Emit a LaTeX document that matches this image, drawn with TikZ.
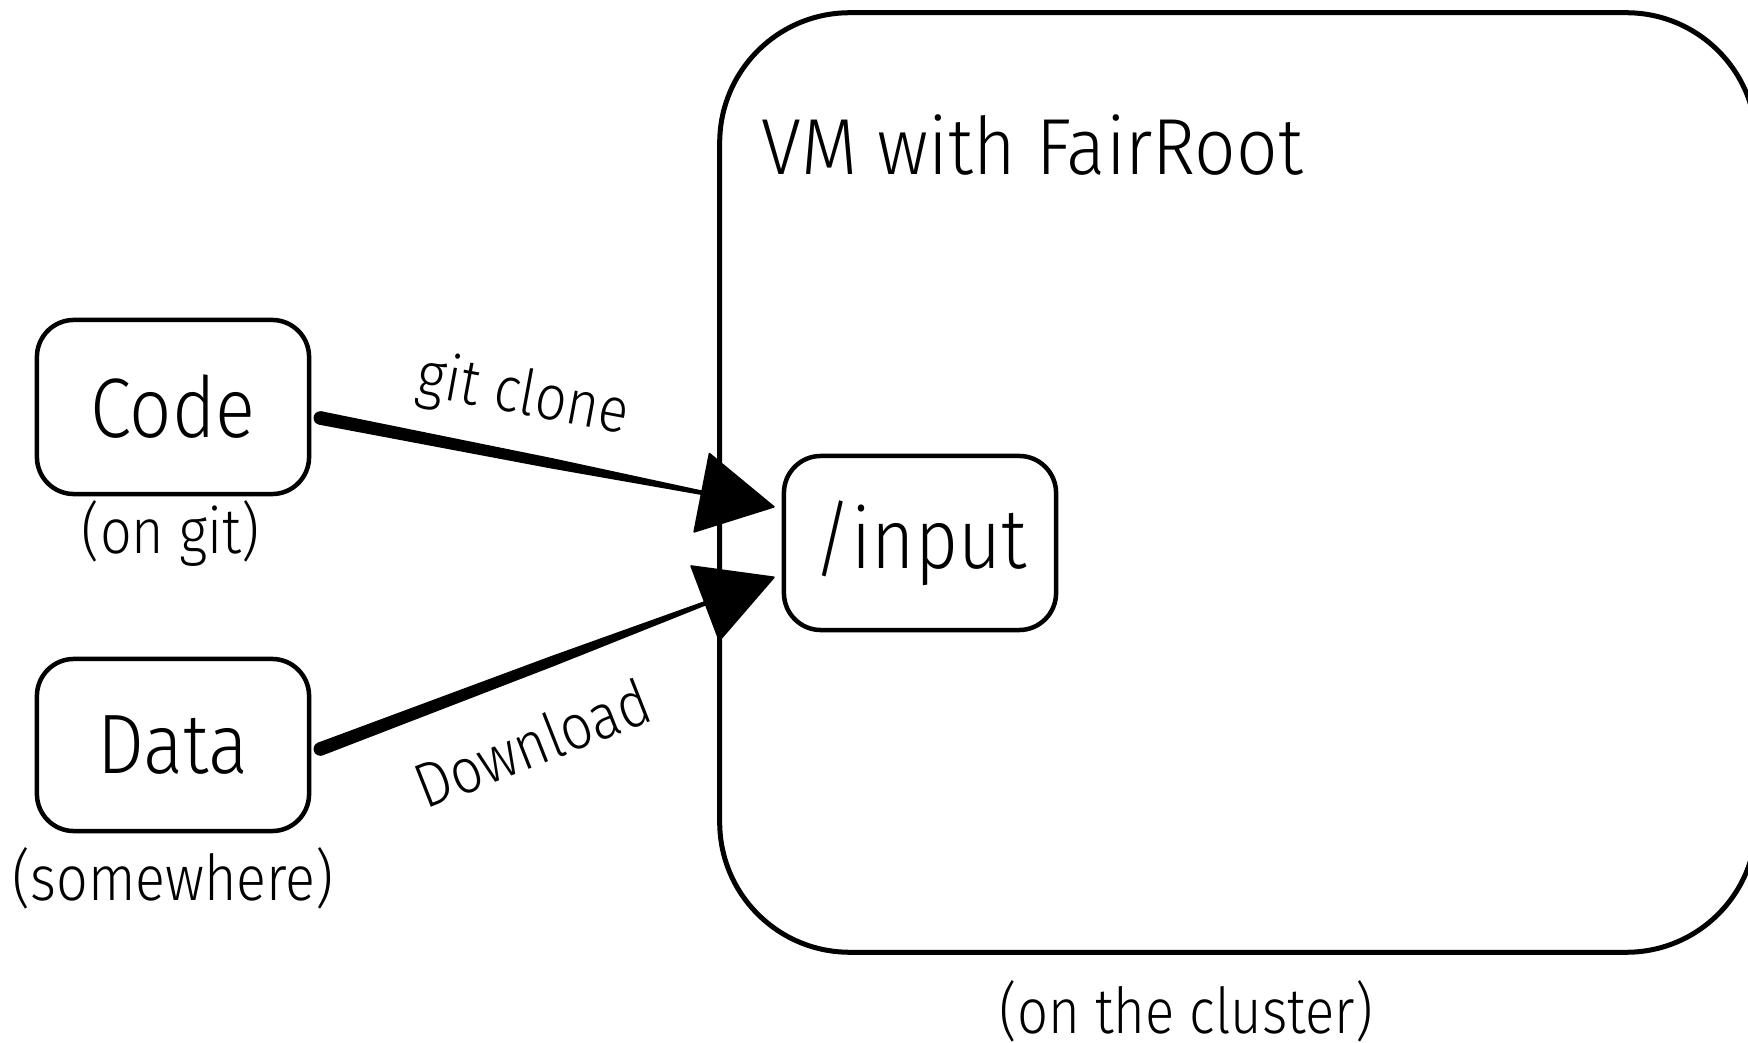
\documentclass[tikz,border=0pt]{standalone}
\usepackage{fontspec}
\usepackage{graphicx}
\setmainfont{Fira Sans Light}
\usetikzlibrary{calc,arrows.meta}
\newcommand\sqz[2][0.88]{\scalebox{#1}[1]{#2}}
\newcommand\boxfont{\fontsize{24}{28}\selectfont}
\newcommand\titlefont{\fontsize{22.6}{26}\selectfont}
\newcommand\lblfont{\fontsize{18}{22}\selectfont}
\newcommand\brusharrow[2]{%
  \coordinate (bb) at ($(#2)!0.7cm!(#1)$);
  \coordinate (bm) at ($(#1)!0.6!(bb)$);
  \fill ($(#1)!0.068cm!90:(#2)$) -- ($(bm)!0.052cm!90:(#2)$) -- ($(bb)!0.022cm!90:(#2)$) -- ($(bb)!0.022cm!-90:(#2)$) -- ($(bm)!0.052cm!-90:(#2)$) -- ($(#1)!0.068cm!-90:(#2)$) -- cycle;
  \fill (#1) circle (0.068cm);
  \draw[conn] (#1) -- (#2);
}
\begin{document}
\begin{tikzpicture}[x=0.01cm,y=-0.01cm,
  box/.style={draw, line width=0.045cm, rounded corners=0.37cm, minimum width=2.72cm, minimum height=1.74cm, inner sep=0pt},
  bigbox/.style={draw, line width=0.05cm, rounded corners=1.3cm, minimum width=10.36cm, minimum height=9.39cm, inner sep=0pt},
  conn/.style={line width=0.5pt, -{Triangle[length=0.76cm,width=0.82cm,round]}},
  txt/.style={inner sep=0pt}
]
\useasboundingbox (0,0) rectangle (1748,1043);
\clip (0,0) rectangle (1748,1043);
\node[bigbox] (vm) at (1238,482.5) {};
\node[txt, anchor=base west] (vmt) at (761,175) {\titlefont\sqz[0.918]{VM with FairRoot}};
\node[txt] (cl) at (1186,1011) {\lblfont\sqz[0.86]{(on the cluster)}};
\node[box] (code) at (173,407) {\boxfont\sqz{Code}};
\node[box, minimum height=1.72cm] (data) at (173,745) {\boxfont\sqz{Data}};
\node[box] (input) at (920,543) {\boxfont\sqz{/input}};
\node[txt] (codesub) at (171,533) {\lblfont\sqz{(on git)}};
\node[txt] (datasub) at (173,878) {\lblfont\sqz{(somewhere)}};
\coordinate (s1) at ($(code.east)+(9,11)$);
\coordinate (t1) at ($(input.west)+(-7,-36)$);
\coordinate (s2) at ($(data.east)+(9,4)$);
\coordinate (t2) at ($(input.west)+(-7,34)$);
\brusharrow{s1}{t1}
\brusharrow{s2}{t2}
\node[txt, rotate=-10.5] (l1) at (523,397) {\lblfont\sqz{git clone}};
\node[txt, rotate=21.5] (l2) at (532,743) {\lblfont\sqz{Download}};
\end{tikzpicture}
\end{document}
